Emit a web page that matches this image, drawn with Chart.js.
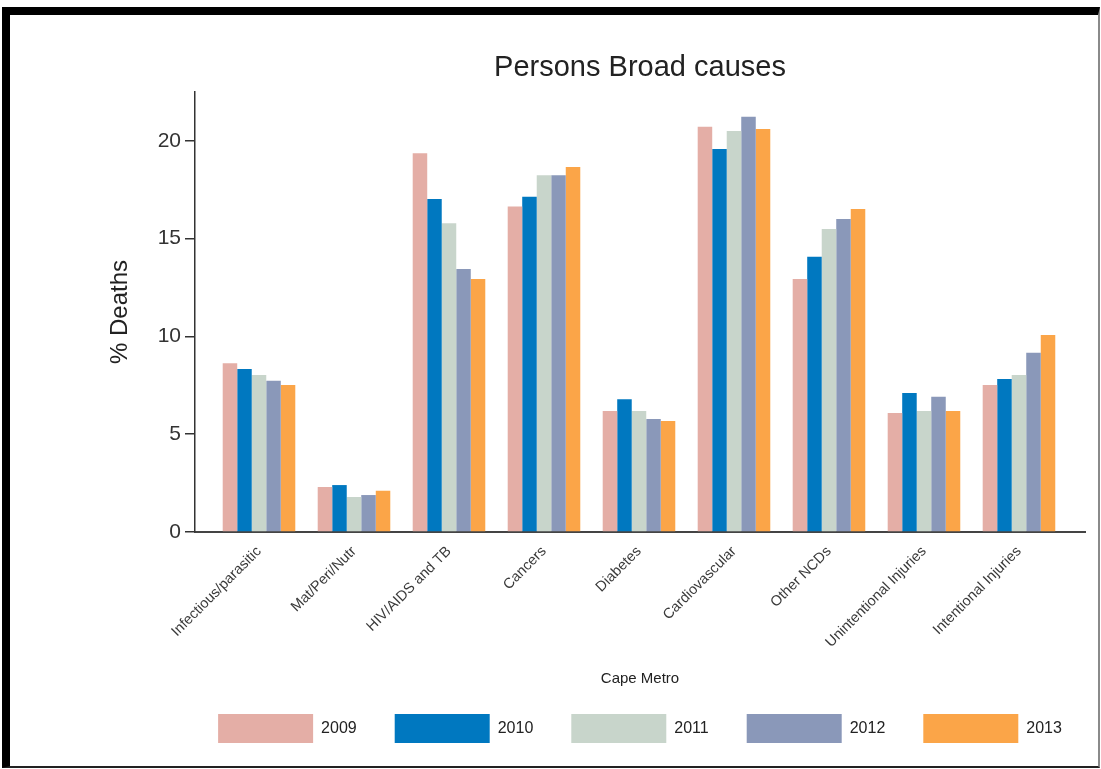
<!DOCTYPE html>
<html>
<head>
<meta charset="utf-8">
<script src="https://cdn.jsdelivr.net/npm/chart.js@4"></script>
<style>
  html, body { margin: 0; padding: 0; background: #fff; overflow: hidden; width: 1101px; height: 769px; }
  #c { position: absolute; left: 0; top: 0; }
  #frame { position: absolute; left: 2px; top: 7px; right: 1px; bottom: 1px; box-sizing: border-box;
    border-top: 8px solid #000; border-left: 8px solid #000; border-right: 2px solid #8a8a8a; border-bottom: 2px solid #222;
    pointer-events: none; }
</style>
</head>
<body>
<canvas id="c" width="1280" height="769"></canvas>
<div id="frame"></div>
<script>
const categories = ["Infectious/parasitic", "Mat/Peri/Nutr", "HIV/AIDS and TB", "Cancers", "Diabetes",
  "Cardiovascular", "Other NCDs", "Unintentional Injuries", "Intentional Injuries"];
const years = ["2009", "2010", "2011", "2012", "2013"];
const v2009 = [8.63, 2.30, 19.37, 16.64, 6.19, 20.72, 12.94, 6.09, 7.52];
const v2010 = [8.34, 2.40, 17.03, 17.14, 6.79, 19.59, 14.07, 7.11, 7.83];
const v2011 = [8.03, 1.79, 15.79, 18.24, 6.19, 20.51, 15.50, 6.19, 8.03];
const v2012 = [7.74, 1.89, 13.45, 18.24, 5.78, 21.24, 16.01, 6.91, 9.16];
const v2013 = [7.52, 2.11, 12.94, 18.67, 5.68, 20.61, 16.52, 6.19, 10.08];
const yTicks = [0, 5, 10, 15, 20];
const colors = ["#E4AEA6", "#0078C0", "#C8D5CB", "#8A98B9", "#FBA548"];

const series = [v2009, v2010, v2011, v2012, v2013];

Chart.defaults.font.family = "'Liberation Sans', Arial, sans-serif";
Chart.defaults.color = "#333";

const datasets = series.map((vals, k) => ({
  label: years[k],
  data: vals.map((v, i) => ({ x: i, y: v })),
  backgroundColor: colors[k],
  borderWidth: 0,
  categoryPercentage: 0.764,
  barPercentage: 1.0
}));

new Chart(document.getElementById('c'), {
  type: 'bar',
  data: { datasets },
  options: {
    responsive: false,
    animation: false,
    devicePixelRatio: 1,
    layout: { padding: { top: 0, left: 0, right: 0, bottom: 16 } },
    plugins: {
      tooltip: { enabled: false },
      title: {
        display: true,
        text: 'Persons Broad causes',
        color: '#222',
        font: { size: 29, weight: 'normal' },
        padding: { top: 50.6, bottom: 6.6 }
      },
      legend: {
        position: 'bottom',
        labels: {
          boxWidth: 95,
          boxHeight: 29,
          padding: 38,
          color: '#222',
          font: { size: 16 }
        }
      }
    },
    scales: {
      x: {
        type: 'linear',
        position: 'bottom',
        offset: false,
        min: -0.6737,
        max: 8.695,
        grid: { display: false },
        border: { display: true, color: '#444', width: 2 },
        ticks: {
          stepSize: 1,
          includeBounds: false,
          autoSkip: false,
          maxRotation: 45,
          minRotation: 45,
          padding: 3,
          color: '#3a3a3a',
          font: { size: 14.5 },
          callback: (value) => Number.isInteger(value) && categories[value] !== undefined ? categories[value] : ''
        },
        title: {
          display: true,
          text: 'Cape Metro',
          color: '#222',
          font: { size: 15 },
          padding: { top: 0, bottom: -12 }
        },
        afterFit: (scale) => { scale.height = 144; }
      },
      y: {
        position: 'left',
        min: 0,
        max: 22.5,
        grid: { display: true, drawOnChartArea: false, drawTicks: true, tickLength: 10, color: '#333', lineWidth: 1.5 },
        border: { display: true, color: '#333', width: 1.5 },
        afterBuildTicks: (scale) => { scale.ticks = yTicks.map(v => ({ value: v })); },
        ticks: {
          padding: 4,
          color: '#333',
          font: { size: 21 }
        },
        title: {
          display: true,
          text: '% Deaths',
          color: '#222',
          font: { size: 24 },
          padding: { top: 105.6, bottom: 0 }
        },
        afterFit: (scale) => { scale.width = 195; }
      },
      y2: {
        position: 'right',
        display: true,
        grid: { display: false },
        border: { display: false },
        ticks: { display: false },
        afterFit: (scale) => { scale.width = 195; }
      }
    }
  }
});
</script>
</body>
</html>
